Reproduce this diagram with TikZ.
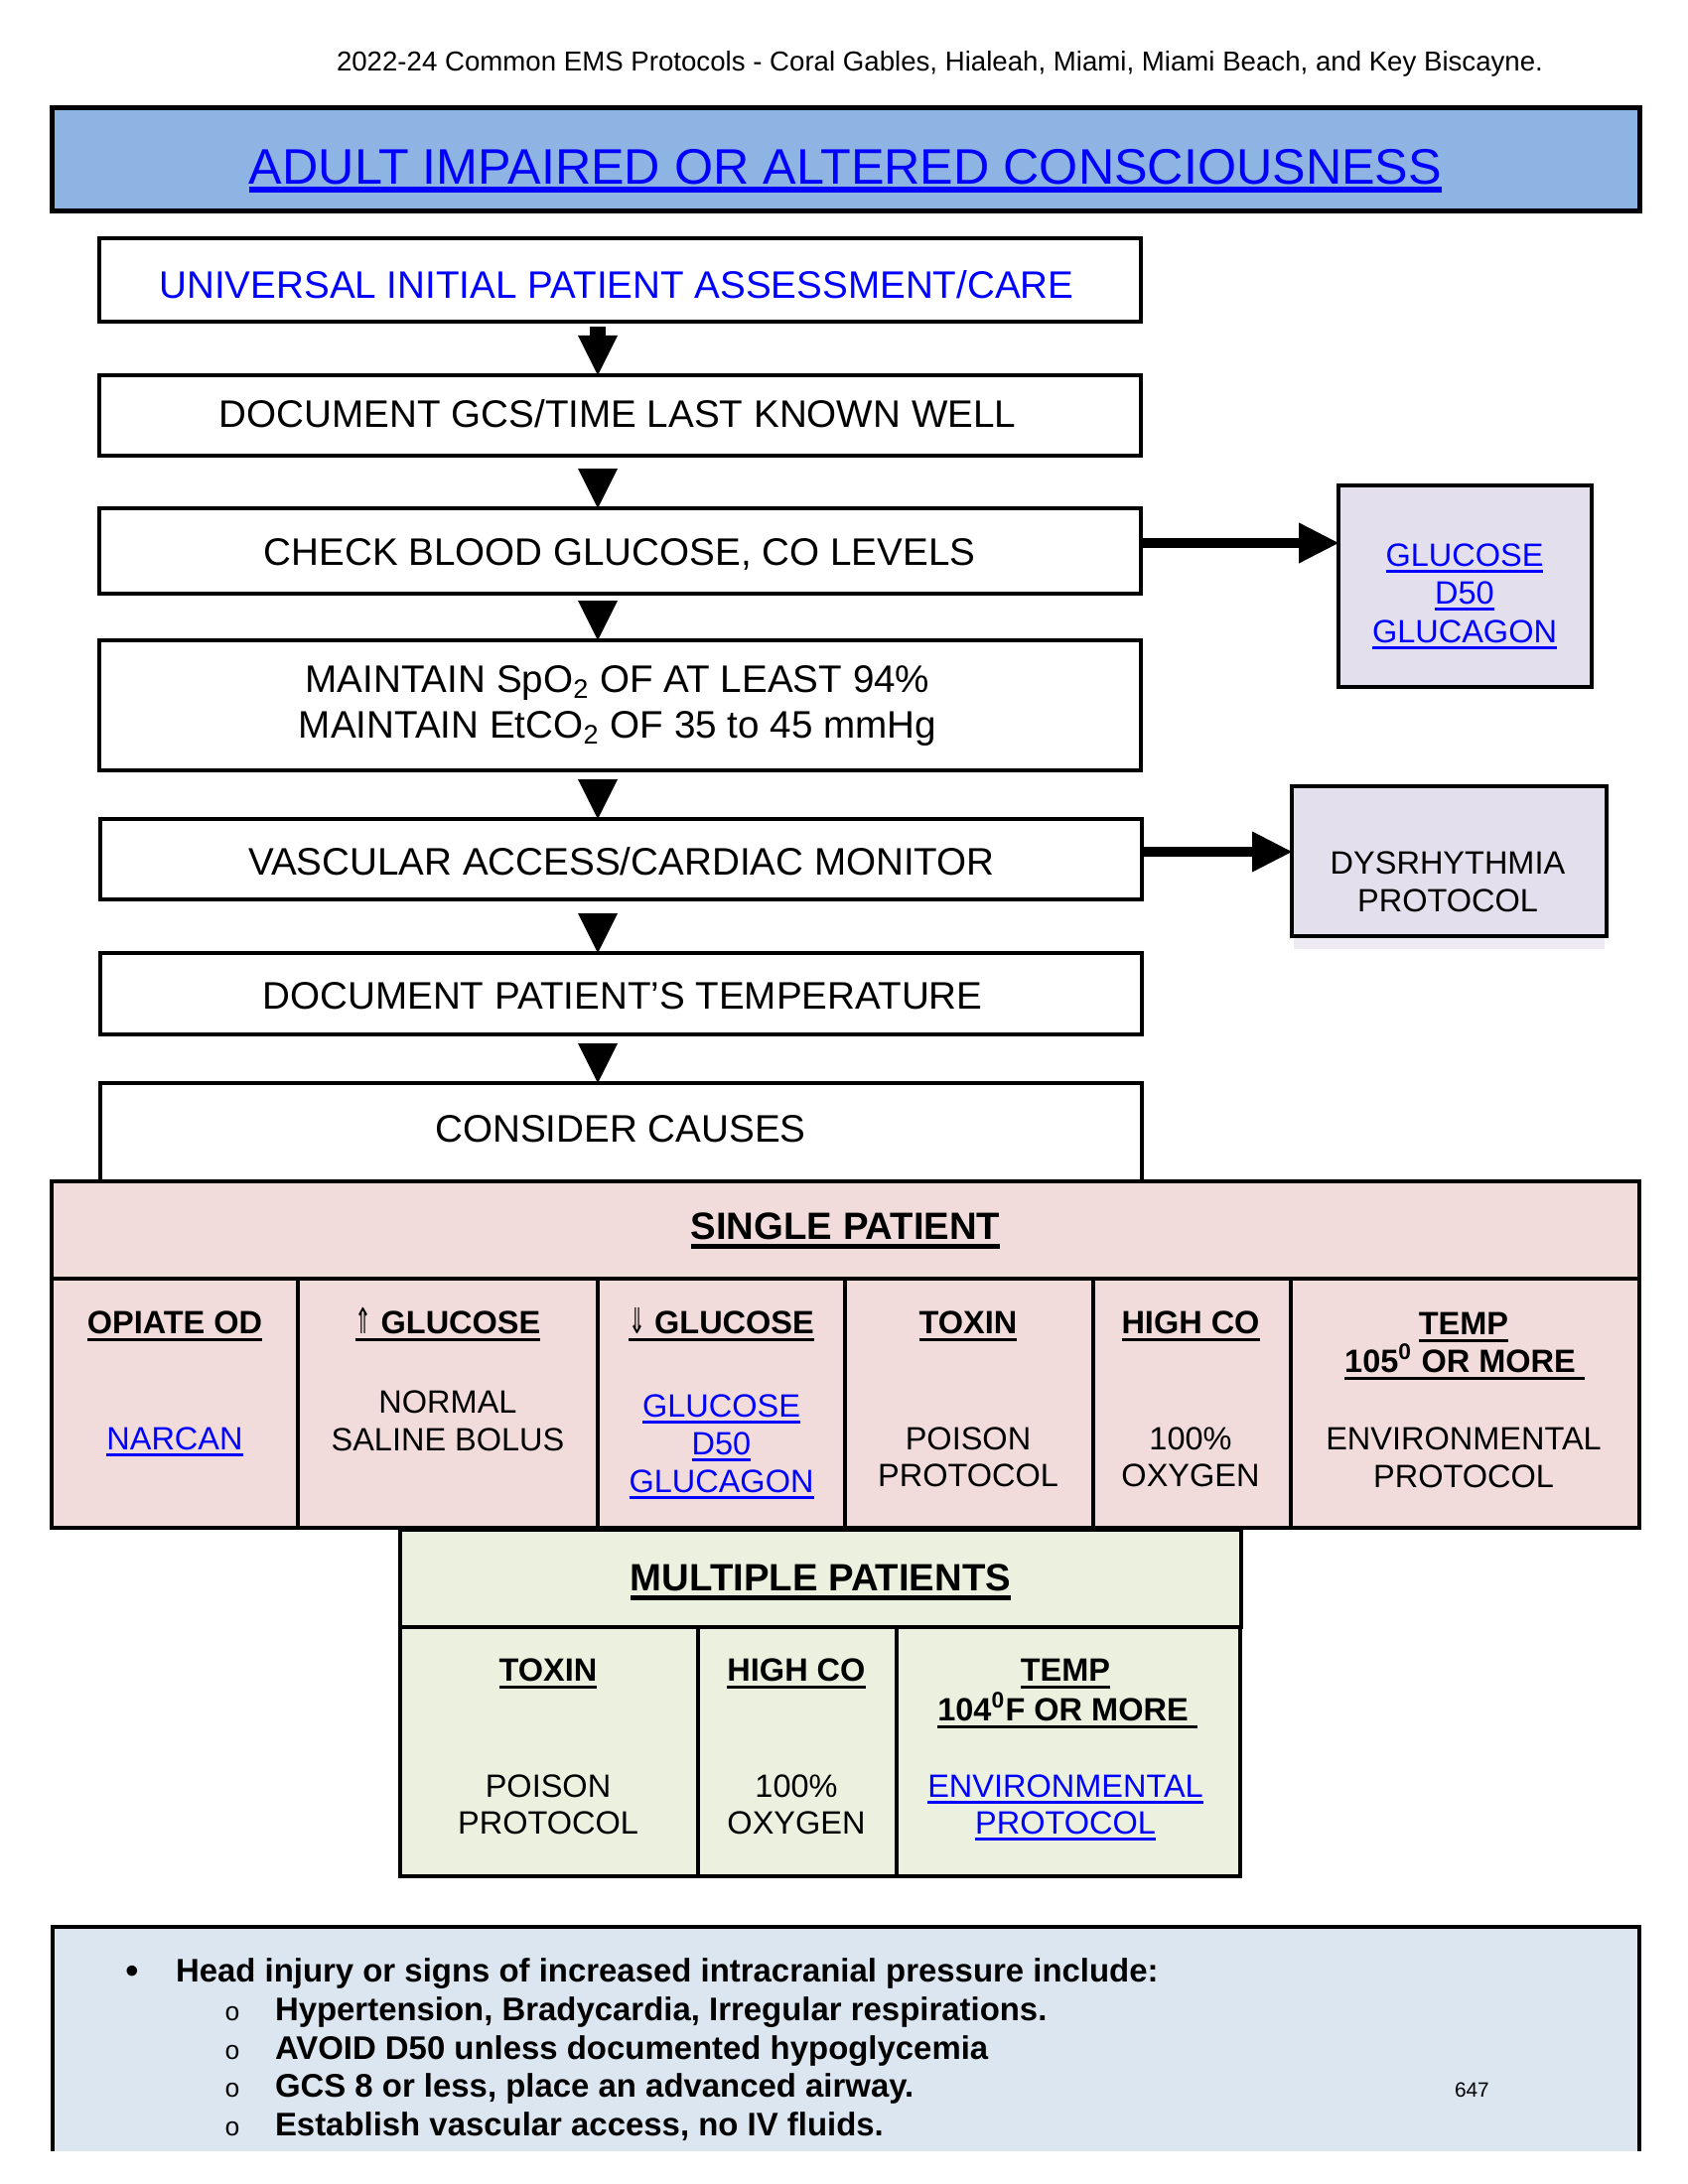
\documentclass[tikz,border=0pt]{standalone}
\usepackage{fontspec}
\setmainfont{Liberation Sans}
\newfontfamily\dejavu{DejaVu Sans}
\newfontfamily\monofnt{Liberation Mono}
\usepackage{graphicx}
\usetikzlibrary{arrows.meta}
\definecolor{titlefill}{RGB}{142,180,227}
\definecolor{linkblue}{RGB}{0,0,255}
\definecolor{pinkfill}{RGB}{242,220,219}
\definecolor{greenfill}{RGB}{235,241,222}
\definecolor{lavfill}{RGB}{228,223,236}
\definecolor{notefill}{RGB}{220,230,241}
\newcommand\myul[3]{\setbox0=\hbox{#3}\rlap{\rule[#1]{\wd0}{#2}}\box0}
\newcommand\hul[1]{\myul{-0.25em}{0.11em}{#1}}
\newcommand\lnk[1]{\textcolor{linkblue}{\myul{-0.22em}{0.09em}{#1}}}
\newcommand\tul[1]{\myul{-0.15em}{0.12em}{#1}}
\newcommand\uparr{{\mdseries\dejavu\scalebox{0.62}[1.1]{⇑}}}
\newcommand\downarr{{\mdseries\dejavu\scalebox{0.62}[1.1]{⇓}}}
\begin{document}
\begin{tikzpicture}[x=0.36pt, y=-0.36pt,
  every node/.style={inner sep=0pt, outer sep=0pt},
  sz/.style 2 args={minimum width=#1*0.36pt, minimum height=#2*0.36pt},
  bx/.style={draw, line width=1.44pt, rectangle},
  flowbox/.style={bx, fill=white},
  sidebox/.style={bx, fill=lavfill},
  pinkbox/.style={bx, fill=pinkfill},
  greenbox/.style={bx, fill=greenfill},
  titlebox/.style={draw, line width=1.8pt, fill=titlefill},
  txt/.style={anchor=base},
  ftxt/.style={txt, font=\fontsize{13.9}{16}\selectfont},
  stxt/.style={txt, font=\fontsize{11.7}{13.5}\selectfont},
  sbtxt/.style={txt, font=\fontsize{11.7}{13.5}\selectfont\bfseries},
  htxt/.style={txt, font=\fontsize{13.8}{16}\selectfont\bfseries},
  ntxt/.style={anchor=base west, font=\fontsize{11.85}{14}\selectfont\bfseries},
  headtip/.style={-{Triangle[length=14.4pt, width=14.4pt, line width=0pt]}},
  varrow/.style={headtip, line width=0.6pt},
  harrow/.style={-{Triangle[length=14.4pt, width=14.8pt, line width=0pt]}, line width=3.6pt}
]
\useasboundingbox (0,0) rectangle (1700,2200);

% header line
\node[anchor=base west, font=\fontsize{9.95}{12}\selectfont] (hdr) at (339,72)
  {2022-24 Common EMS Protocols - Coral Gables, Hialeah, Miami, Miami Beach, and Key Biscayne.};

% title
\node[titlebox, sz={1599}{104}] (title) at (851.5,161) {};
\node[txt, font=\fontsize{18.1}{20}\selectfont, text=linkblue] (titletxt) at (851.5,186)
  {\tul{ADULT IMPAIRED OR ALTERED CONSCIOUSNESS}};

% flow boxes
\node[flowbox, sz={1049}{84}]  (b1) at (624.5,282) {};
\node[flowbox, sz={1049}{81}]  (b2) at (624.5,418.5) {};
\node[flowbox, sz={1049}{86}]  (b3) at (624.5,555) {};
\node[flowbox, sz={1049}{131}] (b4) at (624.5,710.5) {};
\node[flowbox, sz={1049}{81}]  (b5) at (625.5,865.5) {};
\node[flowbox, sz={1049}{82}]  (b6) at (625.5,1001) {};
\node[flowbox, sz={1049}{99}]  (b7) at (625.5,1140.5) {};

\node[ftxt, text=linkblue] (t1) at (621,301) {UNIVERSAL INITIAL PATIENT ASSESSMENT/CARE};
\node[ftxt] (t2) at (622,430) {DOCUMENT GCS/TIME LAST KNOWN WELL};
\node[ftxt] (t3) at (624,569) {CHECK BLOOD GLUCOSE, CO LEVELS};
\node[ftxt] (t4a) at (622,697) {MAINTAIN SpO\textsubscript{2} OF AT LEAST 94\%};
\node[ftxt] (t4b) at (622,743) {MAINTAIN EtCO\textsubscript{2} OF 35 to 45 mmHg};
\node[ftxt] (t5) at (626,881) {VASCULAR ACCESS/CARDIAC MONITOR};
\node[ftxt] (t6) at (627,1016) {DOCUMENT PATIENT’S TEMPERATURE};
\node[ftxt] (t7) at (625,1150) {CONSIDER CAUSES};

% vertical arrows
\coordinate (ax) at (602,0);
\draw[headtip, line width=6.1pt, shorten <=1.8pt] (b1.south -| ax) -- (b2.north -| ax);
\draw[varrow, shorten <=16*0.36pt] (b2.south -| ax) -- (b3.north -| ax);
\draw[varrow, shorten <=10*0.36pt] (b3.south -| ax) -- (b4.north -| ax);
\draw[varrow, shorten <=12*0.36pt] (b4.south -| ax) -- (b5.north -| ax);
\draw[varrow, shorten <=17*0.36pt] (b5.south -| ax) -- (b6.north -| ax);
\draw[varrow, shorten <=12*0.36pt] (b6.south -| ax) -- (b7.north -| ax);

% side boxes
\node[sidebox, sz={255}{203}] (g1) at (1475.5,590.5) {};
\node[stxt] (g1a) at (1475,570) {\lnk{GLUCOSE}};
\node[stxt] (g1b) at (1475,608) {\lnk{D50}};
\node[stxt] (g1c) at (1475,647) {\lnk{GLUCAGON}};

\fill[lavfill!65] (1303,943) rectangle (1616,956);
\node[sidebox, sz={317}{151}] (d1) at (1459.5,867.5) {};
\node[stxt] (d1a) at (1458,880) {DYSRHYTHMIA};
\node[stxt] (d1b) at (1458,918) {PROTOCOL};

\coordinate (ha1) at (0,547);
\coordinate (ha2) at (0,858);
\draw[harrow] (b3.east |- ha1) -- (g1.west |- ha1);
\draw[harrow] (b5.east |- ha2) -- (d1.west |- ha2);

% single patient
\node[pinkbox, sz={1599}{98}] (sp) at (851.5,1239) {};
\node[htxt] (spt) at (851.5,1248) {\hul{SINGLE PATIENT}};

\node[pinkbox, sz={248}{251}] (c1) at (176,1413.5) {};
\node[pinkbox, sz={302}{251}] (c2) at (451,1413.5) {};
\node[pinkbox, sz={249}{251}] (c3) at (726.5,1413.5) {};
\node[pinkbox, sz={250}{251}] (c4) at (976,1413.5) {};
\node[pinkbox, sz={199}{251}] (c5) at (1200.5,1413.5) {};
\node[pinkbox, sz={351}{251}] (c6) at (1475.5,1413.5) {};

\node[sbtxt] (c1h) at (176,1343) {\hul{OPIATE OD}};
\node[stxt]  (c1a) at (176,1460) {\lnk{NARCAN}};

\node[sbtxt] (c2h) at (451,1343) {\hul{\uparr\ GLUCOSE}};
\node[stxt]  (c2a) at (451,1423) {NORMAL};
\node[stxt]  (c2b) at (451,1461) {SALINE BOLUS};

\node[sbtxt] (c3h) at (726.5,1343) {\hul{\downarr\ GLUCOSE}};
\node[stxt]  (c3a) at (726.5,1427) {\lnk{GLUCOSE}};
\node[stxt]  (c3b) at (726.5,1465) {\lnk{D50}};
\node[stxt]  (c3c) at (726.5,1503) {\lnk{GLUCAGON}};

\node[sbtxt] (c4h) at (975,1343) {\hul{TOXIN}};
\node[stxt]  (c4a) at (975,1460) {POISON};
\node[stxt]  (c4b) at (975,1497) {PROTOCOL};

\node[sbtxt] (c5h) at (1199,1343) {\hul{HIGH CO}};
\node[stxt]  (c5a) at (1199,1460) {100\%};
\node[stxt]  (c5b) at (1199,1497) {OXYGEN};

\node[sbtxt] (c6h) at (1474,1344) {\hul{TEMP}};
\node[sbtxt] (c6i) at (1475,1382) {\hul{105\textsuperscript{0} OR MORE\ }};
\node[stxt]  (c6a) at (1474,1460) {ENVIRONMENTAL};
\node[stxt]  (c6b) at (1474,1498) {PROTOCOL};

% multiple patients
\node[greenbox, sz={847}{98}] (mp) at (826.5,1590) {};
\node[htxt] (mpt) at (826.5,1602) {\hul{MULTIPLE PATIENTS}};

\node[greenbox, sz={300}{251}] (m1) at (553,1764.5) {};
\node[greenbox, sz={200}{251}] (m2) at (803,1764.5) {};
\node[greenbox, sz={346}{251}] (m3) at (1076,1764.5) {};

\node[sbtxt] (m1h) at (552,1693) {\hul{TOXIN}};
\node[stxt]  (m1a) at (552,1810) {POISON};
\node[stxt]  (m1b) at (552,1847) {PROTOCOL};

\node[sbtxt] (m2h) at (802,1693) {\hul{HIGH CO}};
\node[stxt]  (m2a) at (802,1810) {100\%};
\node[stxt]  (m2b) at (802,1847) {OXYGEN};

\node[sbtxt] (m3h) at (1073,1693) {\hul{TEMP}};
\node[sbtxt] (m3i) at (1075,1733) {\hul{104\textsuperscript{0}F OR MORE\ }};
\node[stxt]  (m3a) at (1073,1810) {\lnk{ENVIRONMENTAL}};
\node[stxt]  (m3b) at (1073,1847) {\lnk{PROTOCOL}};

% notes box
\node[fill=notefill, sz={1598}{226}] (nb) at (852,2054) {};
\draw[line width=1.44pt] (nb.south west) -- (nb.north west) -- (nb.north east) -- (nb.south east);

\node[txt, font=\fontsize{14}{14}\selectfont] (nb0) at (133,1998) {•};
\node[ntxt] (n0) at (177,1996) {Head injury or signs of increased intracranial pressure include:};
\node[txt, font=\monofnt\fontsize{9.5}{9}\selectfont] (nb1) at (234,2035) {o};
\node[txt, font=\monofnt\fontsize{9.5}{9}\selectfont] (nb2) at (234,2074) {o};
\node[txt, font=\monofnt\fontsize{9.5}{9}\selectfont] (nb3) at (234,2112) {o};
\node[txt, font=\monofnt\fontsize{9.5}{9}\selectfont] (nb4) at (234,2151) {o};
\node[ntxt] (n1) at (277,2035) {Hypertension, Bradycardia, Irregular respirations.};
\node[ntxt] (n2) at (277,2074) {AVOID D50 unless documented hypoglycemia};
\node[ntxt] (n3) at (277,2112) {GCS 8 or less, place an advanced airway.};
\node[ntxt] (n4) at (277,2151) {Establish vascular access, no IV fluids.};
\node[anchor=base west, font=\fontsize{7.5}{9}\selectfont] (pg) at (1465,2112) {647};
\end{tikzpicture}
\end{document}
